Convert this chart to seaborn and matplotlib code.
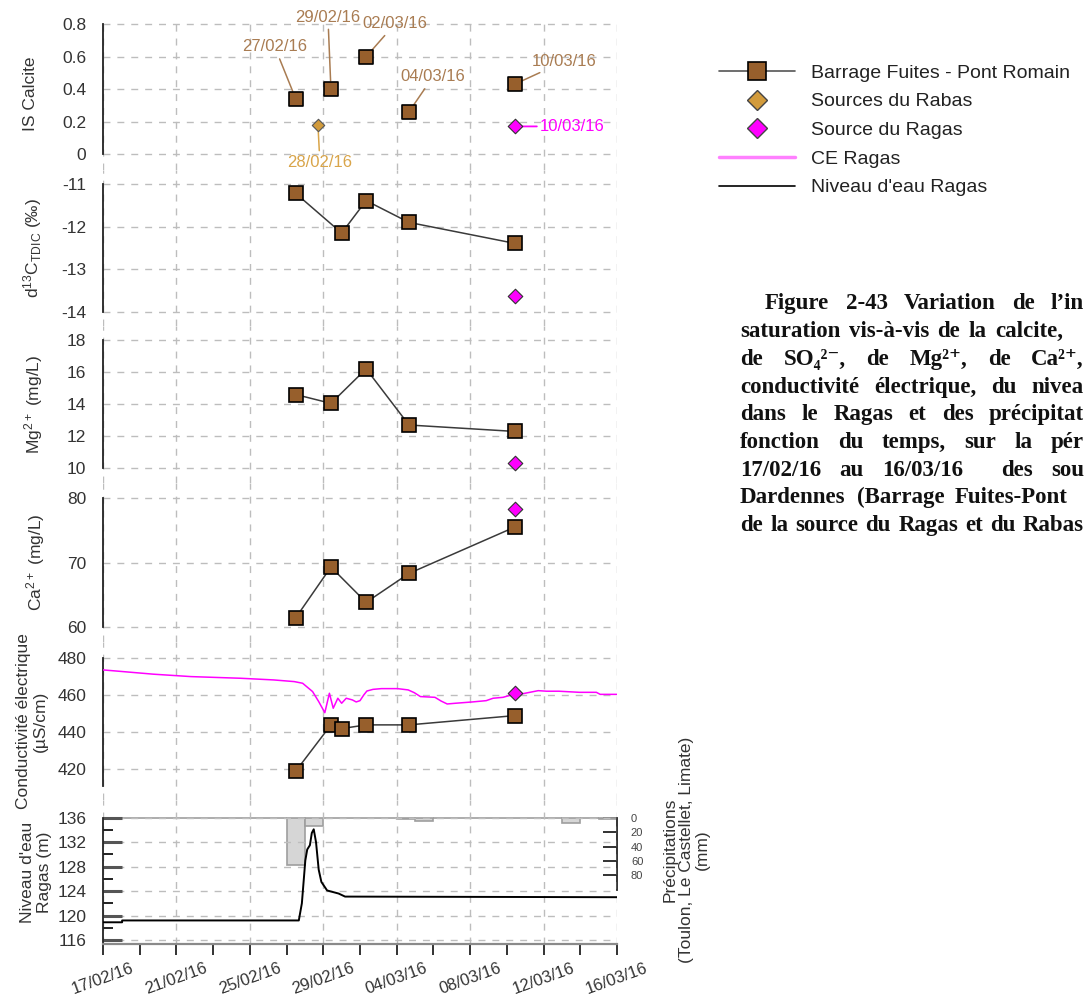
import numpy as np
import pandas as pd
import matplotlib
matplotlib.use("Agg")
import matplotlib.pyplot as plt
import matplotlib.dates as mdates
from matplotlib.lines import Line2D
from matplotlib.legend_handler import HandlerLine2D
from matplotlib.ticker import FixedLocator, FuncFormatter
import seaborn as sns

# ---- data ----
sample_dates = ["2016-02-27 12:00", "2016-02-29 10:00", "2016-03-01 00:00",
                "2016-03-02 08:00", "2016-03-04 16:00", "2016-03-10 10:00"]
is_barrage = [0.34, 0.40, np.nan, 0.60, 0.26, 0.43]
d13c_barrage = [-11.22, np.nan, -12.15, -11.39, -11.90, -12.39]
mg_barrage = [14.6, 14.05, np.nan, 16.2, 12.7, 12.3]
ca_barrage = [61.4, 69.3, np.nan, 63.8, 68.3, 75.5]
ce_barrage = [419, 444, 442, 444, 444, 449]
is_labels = ["27/02/16", "29/02/16", "", "02/03/16", "04/03/16", "10/03/16"]

rabas_date = "2016-02-28 17:00"
rabas_is = 0.18
rabas_label = "28/02/16"

ragas_date = "2016-03-10 10:00"
ragas_is = 0.17
ragas_d13c = -13.62
ragas_mg = 10.35
ragas_ca = 78.3
ragas_ce = 461
ragas_label = "10/03/16"

ce_times = ["2016-02-17 00:00", "2016-02-17 12:00", "2016-02-19 18:00", "2016-02-21 19:00",
            "2016-02-24 12:00", "2016-02-26 07:00", "2016-02-27 10:00", "2016-02-27 21:00",
            "2016-02-28 10:00", "2016-02-28 18:00", "2016-02-29 02:00", "2016-02-29 08:00",
            "2016-02-29 13:00", "2016-02-29 19:00", "2016-03-01 00:00", "2016-03-01 06:00",
            "2016-03-01 14:00", "2016-03-01 19:00", "2016-03-02 00:00", "2016-03-02 05:00",
            "2016-03-02 09:00", "2016-03-02 17:00", "2016-03-03 04:00", "2016-03-04 01:00",
            "2016-03-04 15:00", "2016-03-04 23:00", "2016-03-05 07:00", "2016-03-06 02:00",
            "2016-03-06 10:00", "2016-03-06 18:00", "2016-03-07 05:00", "2016-03-08 03:00",
            "2016-03-08 21:00", "2016-03-09 06:00", "2016-03-09 19:00", "2016-03-10 06:00",
            "2016-03-10 19:00", "2016-03-11 17:00", "2016-03-12 04:00", "2016-03-12 20:00",
            "2016-03-13 23:00", "2016-03-14 21:00", "2016-03-15 02:00", "2016-03-16 00:00"]
ce_values = [473.7, 473.3, 471.4, 470.1, 469.2, 468.3, 467.4, 466.5,
             462.0, 456.6, 450.6, 461.1, 453.0, 458.4, 455.7, 458.4,
             457.5, 456.4, 457.1, 460.2, 462.3, 463.2, 463.6, 463.6,
             462.9, 461.4, 459.3, 458.9, 456.9, 455.3, 455.7, 456.4,
             457.1, 458.4, 458.9, 460.2, 460.7, 462.5, 462.2, 462.2,
             461.6, 461.6, 460.5, 460.5]

level_times = ["2016-02-17 00:00", "2016-02-18 01:00", "2016-02-18 01:00", "2016-02-27 16:00",
               "2016-02-27 20:00", "2016-02-28 00:30", "2016-02-28 03:00", "2016-02-28 06:30",
               "2016-02-28 09:00", "2016-02-28 11:30", "2016-02-28 14:30", "2016-02-28 18:00",
               "2016-02-28 21:30", "2016-02-29 05:00", "2016-02-29 20:00", "2016-03-01 04:30",
               "2016-03-16 00:00"]
level_values = [118.9, 118.9, 119.2, 119.2, 122.0, 129.0, 130.8, 131.5, 133.5, 134.1,
                132.0, 127.5, 125.5, 124.1, 123.6, 123.1, 123.0]

precip_days = ["2016-02-17", "2016-02-18", "2016-02-19", "2016-02-20", "2016-02-21", "2016-02-22",
               "2016-02-23", "2016-02-24", "2016-02-25", "2016-02-26", "2016-02-27", "2016-02-28",
               "2016-02-29", "2016-03-01", "2016-03-02", "2016-03-03", "2016-03-04", "2016-03-05",
               "2016-03-06", "2016-03-07", "2016-03-08", "2016-03-09", "2016-03-10", "2016-03-11",
               "2016-03-12", "2016-03-13", "2016-03-14", "2016-03-15"]
precip_mm = [0, 0, 0, 0, 0, 0, 0, 0, 0, 0, 65, 11, 0, 0, 0, 0, 2, 5, 0, 0, 0, 0, 0, 0, 0, 8, 0, 2]

x_ticks = ["2016-02-17", "2016-02-21", "2016-02-25", "2016-02-29",
           "2016-03-04", "2016-03-08", "2016-03-12", "2016-03-16"]

# ---- style ----
sns.set_theme(style="white")
plt.rcParams["font.family"] = ["Liberation Sans", "DejaVu Sans"]
plt.rcParams["mathtext.default"] = "regular"
plt.rcParams["axes.unicode_minus"] = False

brown = "#975F2C"
tan = "#D29B3C"
magenta = "#FF00FF"
W, H = 1086, 999

barrage = pd.DataFrame({"date": pd.to_datetime(sample_dates), "IS": is_barrage,
                        "d13C": d13c_barrage, "Mg": mg_barrage, "Ca": ca_barrage, "CE": ce_barrage})
ce = pd.DataFrame({"date": pd.to_datetime(ce_times), "CE": ce_values})
level = pd.DataFrame({"date": pd.to_datetime(level_times), "level": level_values})

heights = [152, 156, 157, 159, 158, 144]
fig, axes = plt.subplots(6, 1, sharex=True, figsize=(W / 100, H / 100), dpi=100,
                         gridspec_kw=dict(height_ratios=heights, hspace=0,
                                          left=103 / W, right=617 / W,
                                          top=1 - 18 / H, bottom=1 - 944 / H))
plain = FuncFormatter(lambda v, p: f"{v:g}")


def style_axis(ax, lo, hi, major, minor, ylim, label, lx):
    ax.set_ylim(*ylim)
    ax.yaxis.set_major_locator(FixedLocator(np.arange(lo, hi + minor / 10, major)))
    ax.yaxis.set_minor_locator(FixedLocator(np.arange(lo, hi + minor / 10, minor)))
    ax.yaxis.set_major_formatter(plain)
    for s in ["top", "right", "bottom"]:
        ax.spines[s].set_visible(False)
    ax.spines["left"].set_bounds(lo, hi)
    ax.spines["left"].set_color("#222222")
    ax.spines["left"].set_linewidth(1.3)
    ax.tick_params(axis="y", which="major", direction="in", length=14, width=2.2,
                   color="#555555", labelsize=12.5, labelcolor="#333333", pad=12)
    ax.tick_params(axis="y", which="minor", direction="in", length=7, width=1.4, color="#222222")
    ax.tick_params(axis="x", which="both", bottom=False, labelbottom=False)
    ax.grid(True, which="major", color="#BDBDBD", ls=(0, (5, 5)), lw=1)
    ax.set_facecolor("white")
    ax.set_xlabel("")
    ax.set_ylabel(label, fontsize=12.5, color="#333333")
    ax.yaxis.set_label_coords(lx, 0.5)


def barrage_line(ax, col):
    d = barrage[["date", col]].dropna()
    sns.lineplot(data=d, x="date", y=col, ax=ax, color="#3A3A3A", lw=1.1, marker="s",
                 markersize=9.5, markerfacecolor=brown, markeredgecolor="black",
                 markeredgewidth=1.2, estimator=None, legend=False, zorder=4)


def ragas_point(ax, val):
    sns.scatterplot(x=pd.to_datetime([ragas_date]), y=[val], ax=ax, marker="D", s=55,
                    color=magenta, edgecolor="#333333", linewidth=0.8, zorder=5, legend=False)


# panel 1: saturation index
ax = axes[0]
d = barrage[["date", "IS"]].dropna()
sns.scatterplot(data=d, x="date", y="IS", ax=ax, marker="s", s=90, color=brown,
                edgecolor="black", linewidth=1.2, zorder=5, legend=False)
sns.scatterplot(x=pd.to_datetime([rabas_date]), y=[rabas_is], ax=ax, marker="D", s=40,
                color=tan, edgecolor="#555555", linewidth=0.8, zorder=5, legend=False)
ragas_point(ax, ragas_is)
offsets = {"27/02/16": (-21, 52), "29/02/16": (-3, 72), "02/03/16": (29, 33),
           "04/03/16": (24, 35), "10/03/16": (50, 23)}
for dt, v, lab in zip(sample_dates, is_barrage, is_labels):
    if lab:
        ax.annotate(lab, xy=(mdates.date2num(pd.Timestamp(dt)), v), xytext=offsets[lab],
                    textcoords="offset pixels", ha="center", va="center", fontsize=12,
                    color="#A97C52", annotation_clip=False,
                    arrowprops=dict(arrowstyle="-", color="#A97C52", lw=1.1, shrinkA=1, shrinkB=6))
ax.annotate(rabas_label, xy=(mdates.date2num(pd.Timestamp(rabas_date)), rabas_is), xytext=(2, -38),
            textcoords="offset pixels", ha="center", va="center", fontsize=12, color="#D9A54A",
            arrowprops=dict(arrowstyle="-", color="#D9A54A", lw=1.1, shrinkA=1, shrinkB=5))
ax.annotate(ragas_label, xy=(mdates.date2num(pd.Timestamp(ragas_date)), ragas_is), xytext=(58, 0),
            textcoords="offset pixels", ha="center", va="center", fontsize=12, color=magenta,
            arrowprops=dict(arrowstyle="-", color=magenta, lw=1.3, shrinkA=0, shrinkB=5))
style_axis(ax, 0, 0.8, 0.2, 0.1, (-0.099, 0.839), "IS Calcite", -0.126)

# panel 2: d13C
ax = axes[1]
barrage_line(ax, "d13C")
ragas_point(ax, ragas_d13c)
style_axis(ax, -14, -11, 1, 0.5, (-14.328, -10.672), r"d$^{13}$C$_{TDIC}$ (‰)", -0.115)

# panel 3: Mg
ax = axes[2]
barrage_line(ax, "Mg")
ragas_point(ax, ragas_mg)
style_axis(ax, 10, 18, 2, 1, (9.084, 18.873), r"Mg$^{2+}$ (mg/L)", -0.113)

# panel 4: Ca
ax = axes[3]
barrage_line(ax, "Ca")
ragas_point(ax, ragas_ca)
style_axis(ax, 60, 80, 10, 5, (57.63, 82.38), r"Ca$^{2+}$ (mg/L)", -0.109)

# panel 5: conductivity
ax = axes[4]
sns.lineplot(data=ce, x="date", y="CE", ax=ax, color=magenta, lw=1.1, estimator=None,
             sort=False, legend=False, zorder=3)
barrage_line(ax, "CE")
ragas_point(ax, ragas_ce)
style_axis(ax, 420, 480, 20, 10, (403.4, 488.8), "Conductivité électrique\n(µS/cm)", -0.107)
ax.spines["left"].set_bounds(411, 480)

# panel 6: water level + precipitation
ax = axes[5]
axp = ax.twinx()
axp.bar(pd.to_datetime(precip_days), precip_mm, width=1, align="edge", color="#D6D6D6",
        edgecolor="#9E9E9E", lw=1.2, zorder=1)
axp.set_ylim(175.4, -24.6)
axp.yaxis.set_major_locator(FixedLocator([0, 20, 40, 60, 80]))
for s in ["top", "left", "bottom"]:
    axp.spines[s].set_visible(False)
axp.spines["right"].set_bounds(0, 100)
axp.spines["right"].set_color("#222222")
axp.spines["right"].set_linewidth(1.3)
axp.tick_params(axis="y", direction="in", length=10, width=1.3, color="#222222",
                labelsize=8, labelcolor="#444444", pad=10)
axp.tick_params(axis="x", which="both", bottom=False, labelbottom=False)
ax.set_zorder(2)
sns.lineplot(data=level, x="date", y="level", ax=ax, color="black", lw=1.4, estimator=None,
             sort=False, legend=False, zorder=4)
style_axis(ax, 116, 136, 4, 2, (115.35, 138.89), "Niveau d'eau\nRagas (m)", -0.099)
ax.spines["left"].set_bounds(115.35, 136)
ax.patch.set_visible(False)
ax.spines["bottom"].set_visible(True)
ax.spines["bottom"].set_color("#8A8A8A")
ax.spines["bottom"].set_linewidth(1.6)

ax.set_xlim(pd.Timestamp("2016-02-17"), pd.Timestamp("2016-03-16"))
ax.xaxis.set_major_locator(FixedLocator(mdates.date2num(pd.to_datetime(x_ticks))))
ax.xaxis.set_minor_locator(FixedLocator(mdates.date2num(
    pd.date_range("2016-02-17", "2016-03-16", freq="2D"))))
ax.xaxis.set_major_formatter(mdates.DateFormatter("%d/%m/%y"))
ax.tick_params(axis="x", which="both", bottom=True, labelbottom=True, direction="out",
               length=8, width=1.3, color="#222222", labelsize=12, labelcolor="#333333", pad=4)
for lab in ax.get_xticklabels():
    lab.set_rotation(20)
    lab.set_ha("center")

fig.text(686 / W, 1 - 850 / H, "Précipitations\n(Toulon, Le Castellet, Limate)\n(mm)",
         rotation=90, ha="center", va="center", fontsize=12.5, color="#333333", linespacing=1.1)


# legend (markers sit on the left third of the handle line)
class LeftMarkerHandler(HandlerLine2D):
    def create_artists(self, legend, orig_handle, xdescent, ydescent, width, height, fontsize, trans):
        arts = super().create_artists(legend, orig_handle, xdescent, ydescent,
                                      width, height, fontsize, trans)
        for a in arts[1:]:
            a.set_xdata([-xdescent + 0.3 * width])
        return arts


handles = [
    Line2D([], [], color="#555555", lw=1.2, marker="s", markersize=13,
           markerfacecolor=brown, markeredgecolor="black", markeredgewidth=1.2),
    Line2D([], [], ls="none", marker="D", markersize=10, markerfacecolor=tan, markeredgecolor="#444444"),
    Line2D([], [], ls="none", marker="D", markersize=10, markerfacecolor=magenta, markeredgecolor="#444444"),
    Line2D([], [], color="#FF80FF", lw=2.5),
    Line2D([], [], color="black", lw=1.2),
]
legend_labels = ["Barrage Fuites - Pont Romain", "Sources du Rabas", "Source du Ragas",
                 "CE Ragas", "Niveau d'eau Ragas"]
fig.legend(handles, legend_labels, loc="upper left", bbox_to_anchor=(719 / W, 1 - 64 / H),
           frameon=False, fontsize=14, handlelength=3.9, handletextpad=0.85,
           labelspacing=0.57, borderpad=0, borderaxespad=0, labelcolor="#222222",
           handler_map={Line2D: LeftMarkerHandler()})

# caption: justified lines, as far as they show before the right edge
caption = [
    (303, 765, 1084, ["Figure", "2-43", "Variation", "de", "l’in"], None),
    (331, 740, 1063, ["saturation", "vis-à-vis", "de", "la", "calcite,"], None),
    (359, 740, 1084, ["de", "SO₄²⁻,", "de", "Mg²⁺,", "de", "Ca²⁺,"], None),
    (387, 740, 1084, ["conductivité", "électrique,", "du", "nivea"], None),
    (414, 740, 1084, ["dans", "le", "Ragas", "et", "des", "précipitat"], None),
    (442, 740, 1084, ["fonction", "du", "temps,", "sur", "la", "pér"], None),
    (470, 740, 1084, ["17/02/16", "au", "16/03/16", "des", "sou"], [1, 1, 2, 1]),
    (497, 740, 1068, ["Dardennes", "(Barrage", "Fuites-Pont"], None),
    (525, 740, 1084, ["de", "la", "source", "du", "Ragas", "et", "du", "Rabas"], None),
]
renderer = fig.canvas.get_renderer()
for y, x0, x1, words, weights in caption:
    texts = [fig.text(0, 1 - (y + 6) / H, w, ha="left", va="baseline", fontsize=16.5,
                      fontweight="bold", family=["Liberation Serif", "DejaVu Serif"],
                      color="#111111") for w in words]
    widths = [t.get_window_extent(renderer).width for t in texts]
    weights = weights or [1] * (len(words) - 1)
    gap = (x1 - x0 - sum(widths)) / sum(weights)
    x = x0
    for i, t in enumerate(texts):
        t.set_x(x / W)
        if i < len(weights):
            x += widths[i] + gap * weights[i]

fig.savefig("out.png", dpi=100, facecolor="white")
